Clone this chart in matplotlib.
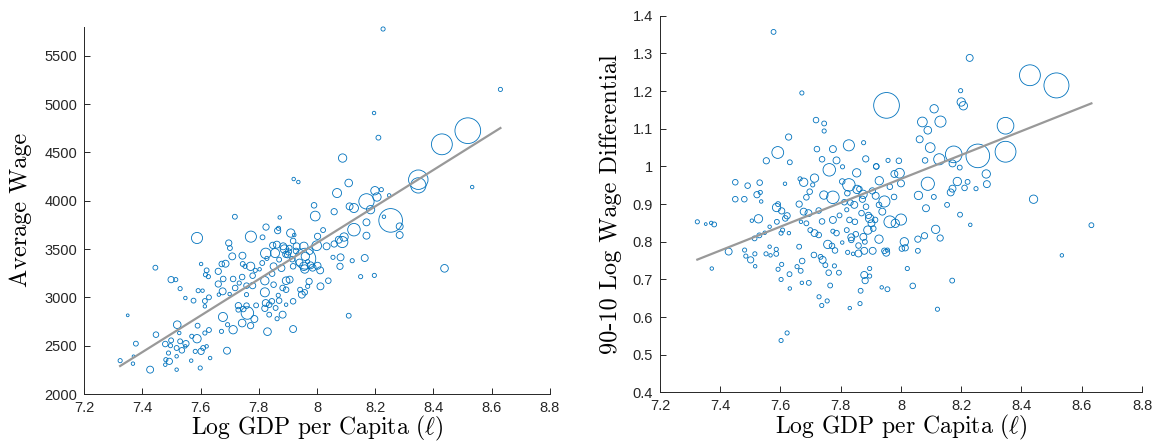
import numpy as np
import matplotlib
matplotlib.use("Agg")
import matplotlib.pyplot as plt
from matplotlib.ticker import FormatStrFormatter

# Left panel: log GDP per capita vs. average wage, marker area ~ city population
x_wage = [
    8.227, 8.630, 8.196, 8.211, 8.518, 8.429, 8.088, 7.920, 7.936, 8.109,
    8.348, 8.348, 8.533, 8.069, 8.199, 8.221, 8.206, 8.248, 8.170, 7.990,
    8.112, 8.127, 8.184, 8.059, 7.994, 8.253, 8.230, 8.284, 8.284, 8.127,
    8.170, 8.170, 8.021, 8.002, 7.718, 7.872, 7.825, 7.865, 7.868, 7.910,
    7.813, 7.773, 7.588, 7.922, 7.697, 7.701, 8.087, 8.075, 8.093, 8.059,
    8.033, 7.999, 7.848, 7.884, 7.824, 7.856, 7.905, 7.930, 7.960, 7.960,
    7.899, 7.709, 7.744, 7.968, 7.828, 8.055, 8.081, 8.164, 8.121, 8.079,
    8.438, 8.150, 8.197, 7.445, 7.602, 7.673, 7.661, 7.621, 7.617, 7.627,
    7.686, 7.745, 7.753, 7.772, 7.788, 7.803, 7.851, 7.878, 7.918, 7.955,
    7.978, 7.985, 8.002, 8.011, 7.958, 7.499, 7.515, 7.530, 7.548, 7.576,
    7.592, 7.607, 7.615, 7.615, 7.629, 7.661, 7.676, 7.663, 7.678, 7.712,
    7.719, 7.700, 7.733, 7.743, 7.758, 7.779, 7.779, 7.758, 7.677, 7.730,
    7.730, 7.747, 7.758, 7.761, 7.785, 7.791, 7.821, 7.824, 7.836, 7.821,
    7.836, 7.845, 7.858, 7.867, 7.870, 7.882, 7.894, 7.882, 7.894, 7.906,
    7.894, 7.918, 7.948, 7.958, 7.942, 7.973, 7.968, 8.012, 8.039, 8.109,
    7.918, 7.830, 7.863, 7.743, 7.772, 7.712, 7.693, 7.672, 7.629, 7.615,
    7.691, 7.621, 7.609, 7.602, 7.633, 7.599, 7.588, 7.570, 7.590, 7.550,
    7.536, 7.530, 7.527, 7.520, 7.518, 7.497, 7.499, 7.479, 7.490, 7.493,
    7.481, 7.479, 7.518, 7.518, 7.568, 7.447, 7.427, 7.378, 7.368, 7.350,
    7.324, 7.370, 7.582, 7.548, 7.821, 7.851, 7.918, 7.955, 7.975,
    7.862, 7.888, 7.902, 7.915, 7.940, 7.870, 7.846, 7.893, 7.928, 7.812,
]
y_wage = [
    5776, 5151, 4907, 4652, 4724, 4583, 4441, 4224, 4193, 4183,
    4217, 4158, 4141, 4079, 4103, 4114, 4038, 4055, 3993, 3952,
    3941, 3924, 3907, 3886, 3841, 3796, 3834, 3734, 3645, 3700,
    3776, 3638, 3696, 3631, 3834, 3827, 3727, 3690, 3714, 3665,
    3621, 3628, 3614, 3645, 3562, 3510, 3572, 3596, 3624, 3552,
    3528, 3534, 3538, 3528, 3455, 3458, 3510, 3528, 3400, 3424,
    3441, 3424, 3431, 3369, 3403, 3414, 3414, 3407, 3379, 3321,
    3300, 3214, 3227, 3307, 3345, 3345, 3269, 3279, 3234, 3214,
    3348, 3345, 3321, 3321, 3279, 3290, 3321, 3303, 3321, 3321,
    3331, 3307, 3327, 3279, 3293, 3183, 3183, 3090, 2993, 2966,
    3069, 3069, 2962, 2907, 3000, 3138, 3062, 3028, 3190, 3190,
    3097, 3034, 3148, 3210, 3121, 3121, 3224, 3028, 2797, 2914,
    2872, 2879, 2914, 2838, 2776, 2917, 3052, 2941, 2924, 2886,
    2821, 2959, 2890, 3021, 2966, 2821, 2924, 3097, 3172, 3183,
    3079, 2959, 3028, 3052, 3079, 3165, 3114, 3114, 3172, 2810,
    2672, 2645, 2779, 2734, 2707, 2665, 2717, 2648, 2662, 2631,
    2448, 2493, 2476, 2441, 2372, 2269, 2572, 2597, 2707, 2521,
    2452, 2545, 2631, 2717, 2476, 2500, 2555, 2517, 2424, 2338,
    2355, 2303, 2390, 2252, 2345, 2614, 2252, 2521, 2314, 2814,
    2345, 2390, 2441, 2493, 3172, 3131, 3583, 3528, 3480,
    3545, 3500, 3470, 3395, 3360, 3390, 3245, 3445, 3480, 3355,
]
pop_wage = [
    0.36, 0.36, 0.25, 0.49, 13.69, 9.00, 1.44, 0.25, 0.25, 1.21,
    7.84, 4.84, 0.25, 1.69, 1.44, 0.36, 1.44, 0.25, 4.84, 0.64,
    1.00, 1.69, 1.44, 0.81, 1.96, 11.56, 0.25, 1.00, 1.00, 3.24,
    1.00, 1.00, 0.49, 0.81, 0.49, 0.25, 0.81, 0.81, 0.36, 1.44,
    0.49, 2.56, 2.56, 0.25, 0.81, 0.49, 2.56, 1.00, 1.44, 0.81,
    1.00, 1.96, 0.81, 1.00, 2.25, 1.69, 0.64, 1.00, 9.00, 1.44,
    0.81, 1.00, 1.00, 0.36, 0.36, 0.36, 1.00, 1.00, 0.36, 0.81,
    1.21, 0.36, 0.36, 0.49, 0.25, 0.64, 0.81, 0.49, 0.36, 0.36,
    1.00, 0.49, 0.36, 1.44, 0.36, 0.25, 1.00, 1.00, 0.64, 1.44,
    1.00, 1.00, 1.00, 1.00, 1.44, 0.81, 0.36, 0.36, 0.25, 0.49,
    0.36, 0.25, 0.49, 0.25, 0.49, 0.81, 1.00, 0.25, 0.64, 0.64,
    0.64, 0.25, 0.36, 0.64, 0.64, 0.81, 0.64, 0.36, 1.69, 0.81,
    0.49, 0.64, 0.64, 3.24, 1.00, 0.49, 1.69, 1.00, 0.64, 0.81,
    0.49, 0.64, 0.49, 0.36, 0.64, 1.00, 0.25, 0.64, 1.21, 1.00,
    0.64, 0.64, 1.00, 0.64, 0.49, 0.81, 0.36, 1.00, 0.64, 0.49,
    1.00, 1.21, 0.36, 1.21, 0.81, 1.44, 0.36, 0.36, 0.49, 0.36,
    1.00, 0.25, 0.49, 0.81, 0.25, 0.36, 1.44, 0.36, 0.49, 0.81,
    0.64, 0.49, 0.25, 1.21, 0.49, 0.36, 0.49, 0.64, 0.36, 0.81,
    0.36, 0.25, 0.25, 0.25, 0.25, 0.64, 1.00, 0.49, 0.25, 0.16,
    0.36, 0.16, 0.36, 0.25, 1.44, 0.64, 0.64, 1.44, 1.00,
    1.00, 1.44, 0.81, 0.64, 1.00, 0.49, 0.64, 0.81, 0.64, 0.49,
]

# Right panel: log GDP per capita vs. 90-10 log wage differential
x_ineq = [
    7.577, 7.671, 8.228, 8.428, 8.516, 7.952, 8.198, 8.200, 8.207, 8.110,
    8.071, 8.131, 8.089, 8.347, 8.347, 8.255, 8.175, 8.127, 8.097, 8.062,
    8.080, 8.171, 8.195, 8.089, 8.187, 8.221, 8.211, 8.171, 8.165, 8.283,
    8.285, 8.249, 8.109, 8.153, 8.083, 8.196, 8.230, 8.440, 8.632, 8.534,
    8.115, 8.130, 8.078, 8.056, 8.056, 8.011, 8.014, 8.003, 8.000, 7.981,
    7.963, 8.058, 7.977, 8.000, 7.995, 7.978, 7.993, 7.957, 7.945, 7.963,
    7.928, 7.918, 7.916, 7.927, 7.927, 7.951, 7.945, 7.955, 7.955, 7.936,
    8.021, 8.039, 8.121, 8.170, 7.906, 7.896, 7.896, 7.878, 7.881, 7.866,
    7.864, 7.830, 7.878, 7.859, 7.841, 7.823, 7.859, 7.875, 7.890, 7.902,
    7.896, 7.914, 7.869, 7.884, 7.872, 7.874, 7.854, 7.827, 7.822, 7.832,
    7.820, 7.829, 7.847, 7.820, 7.835, 7.835, 7.786, 7.774, 7.805, 7.781,
    7.757, 7.771, 7.774, 7.738, 7.774, 7.744, 7.762, 7.786, 7.774, 7.806,
    7.827, 7.853, 7.876, 7.883, 7.738, 7.721, 7.718, 7.745, 7.745, 7.627,
    7.591, 7.553, 7.631, 7.615, 7.665, 7.677, 7.713, 7.707, 7.697, 7.686,
    7.662, 7.677, 7.693, 7.686, 7.668, 7.727, 7.699, 7.713, 7.727, 7.711,
    7.733, 7.740, 7.749, 7.760, 7.794, 7.779, 7.765, 7.755, 7.728, 7.737,
    7.694, 7.671, 7.667, 7.672, 7.662, 7.655, 7.630, 7.631, 7.602, 7.604,
    7.592, 7.602, 7.622, 7.586, 7.586, 7.567, 7.552, 7.564, 7.515, 7.516,
    7.501, 7.485, 7.481, 7.428, 7.372, 7.324, 7.352, 7.370, 7.380, 7.480,
    7.450, 7.450, 7.491, 7.522, 7.531, 7.533, 7.536, 7.527, 7.505, 7.514,
    7.530, 7.548, 7.564, 7.587, 7.592, 7.588, 7.602, 7.607, 7.604, 7.616,
    7.622, 7.628, 7.918, 7.805,
    7.845, 7.862, 7.892, 7.908, 7.938, 7.880, 7.812, 7.796, 7.905, 7.850,
]
y_ineq = [
    1.357, 1.195, 1.288, 1.242, 1.215, 1.162, 1.201, 1.171, 1.161, 1.153,
    1.118, 1.119, 1.096, 1.108, 1.039, 1.028, 1.032, 1.019, 1.050, 1.072,
    1.016, 1.008, 0.997, 0.954, 0.960, 0.959, 0.943, 0.941, 0.931, 0.980,
    0.953, 0.941, 0.919, 0.898, 0.889, 0.872, 0.845, 0.913, 0.844, 0.764,
    0.833, 0.810, 0.816, 0.807, 0.776, 0.800, 0.784, 0.782, 0.859, 0.849,
    0.853, 0.923, 0.919, 0.955, 0.982, 0.980, 1.015, 1.016, 0.907, 0.946,
    0.962, 1.000, 0.922, 0.898, 0.807, 0.771, 0.776, 0.778, 0.674, 0.679,
    0.729, 0.683, 0.621, 0.697, 0.776, 0.729, 0.709, 0.712, 0.697, 0.670,
    0.636, 0.624, 0.776, 0.769, 0.768, 0.772, 0.790, 0.813, 0.831, 0.849,
    0.862, 0.858, 0.876, 0.893, 0.913, 0.926, 0.939, 0.951, 0.929, 0.904,
    0.885, 0.858, 0.853, 0.831, 0.812, 0.805, 0.823, 0.828, 0.798, 0.777,
    0.793, 0.789, 0.858, 0.854, 0.918, 0.924, 0.991, 1.016, 1.046, 0.999,
    1.056, 0.983, 1.063, 1.020, 1.019, 1.046, 1.123, 1.114, 1.094, 1.078,
    1.037, 1.015, 1.011, 0.954, 0.967, 0.958, 0.969, 0.951, 0.933, 0.918,
    0.900, 0.880, 0.876, 0.849, 0.853, 0.883, 0.831, 0.823, 0.818, 0.765,
    0.760, 0.752, 0.738, 0.718, 0.718, 0.736, 0.684, 0.643, 0.654, 0.631,
    0.691, 0.691, 0.723, 0.749, 0.787, 0.734, 0.714, 0.676, 0.700, 0.740,
    0.727, 0.538, 0.558, 0.780, 0.768, 0.764, 0.768, 0.787, 0.768, 0.735,
    0.752, 0.762, 0.778, 0.774, 0.729, 0.853, 0.847, 0.850, 0.846, 0.913,
    0.913, 0.958, 0.949, 0.925, 0.957, 0.931, 0.907, 0.861, 0.856, 0.809,
    0.817, 0.824, 0.840, 0.891, 0.900, 0.853, 0.823, 0.831, 0.882, 0.862,
    0.869, 0.823, 1.000, 0.960,
    0.898, 0.940, 0.870, 0.835, 0.880, 0.800, 0.905, 0.870, 0.935, 0.820,
]
pop_ineq = [
    0.49, 0.36, 1.00, 9.00, 12.96, 13.69, 0.36, 1.44, 1.44, 1.44,
    1.96, 2.56, 1.21, 5.76, 9.00, 11.56, 5.76, 2.56, 1.96, 1.00,
    0.64, 1.00, 0.49, 3.61, 1.44, 0.49, 0.64, 1.00, 1.00, 1.44,
    1.00, 0.36, 0.49, 0.49, 1.00, 0.49, 0.25, 1.44, 0.49, 0.25,
    1.44, 0.81, 0.81, 0.81, 0.49, 1.44, 0.81, 0.64, 2.56, 1.44,
    2.89, 1.44, 0.64, 1.00, 1.96, 1.00, 0.64, 0.36, 2.56, 0.64,
    1.44, 0.64, 1.00, 0.64, 1.44, 1.00, 0.64, 0.36, 0.49, 0.25,
    0.36, 0.64, 0.36, 0.49, 1.00, 0.36, 0.36, 1.00, 0.81, 0.49,
    0.36, 0.25, 1.00, 1.00, 0.25, 0.36, 0.64, 1.00, 1.44, 1.00,
    1.44, 0.64, 0.64, 0.64, 0.81, 1.44, 1.44, 3.24, 0.64, 0.64,
    0.36, 0.64, 0.64, 0.49, 1.00, 0.64, 0.64, 0.36, 0.25, 0.64,
    1.44, 0.64, 1.00, 0.64, 3.24, 1.44, 3.24, 1.00, 1.00, 0.36,
    2.56, 1.44, 0.36, 0.81, 0.64, 0.64, 0.64, 0.49, 0.36, 0.81,
    2.89, 0.81, 0.49, 0.25, 0.36, 1.44, 1.44, 0.36, 0.64, 0.64,
    0.81, 1.00, 1.00, 0.49, 0.25, 0.64, 0.49, 1.00, 0.64, 0.64,
    0.49, 1.00, 0.49, 0.64, 0.49, 0.36, 0.49, 0.36, 0.36, 0.36,
    0.49, 0.25, 0.49, 0.64, 0.49, 0.36, 0.49, 0.25, 0.36, 0.36,
    0.36, 0.36, 0.36, 0.36, 0.49, 0.25, 0.36, 0.25, 0.36, 0.25,
    0.81, 0.36, 0.36, 1.00, 0.25, 0.36, 0.16, 0.25, 0.49, 0.64,
    0.64, 0.64, 0.64, 0.81, 0.64, 0.36, 0.25, 1.44, 0.25, 0.49,
    0.49, 0.25, 0.25, 1.44, 0.49, 0.49, 0.36, 0.36, 0.81, 0.64,
    0.81, 0.25, 0.64, 0.64,
    1.00, 0.64, 0.81, 0.64, 1.00, 0.49, 0.64, 0.49, 0.81, 0.64,
]

# population-weighted linear fits (slope, intercept)
fit_wage = (1885.0, -11516.0)
fit_ineq = (0.317, -1.569)

BLUE = "#0072BD"
AXIS = "#262626"
TICK_FONT = "Liberation Sans"

plt.rcParams["mathtext.fontset"] = "cm"


def style_axes(ax, ylim, yticks):
    ax.set_xlim(7.2, 8.8)
    ax.set_ylim(*ylim)
    ax.set_xticks(np.arange(7.2, 8.81, 0.2))
    ax.set_yticks(yticks)
    ax.xaxis.set_major_formatter(FormatStrFormatter("%g"))
    ax.yaxis.set_major_formatter(FormatStrFormatter("%g"))
    for side in ("top", "right"):
        ax.spines[side].set_visible(False)
    for side in ("left", "bottom"):
        ax.spines[side].set_color(AXIS)
        ax.spines[side].set_linewidth(0.7)
    ax.tick_params(direction="in", length=4, width=0.7, colors=AXIS,
                   labelsize=10.5, pad=5)
    for lbl in ax.get_xticklabels() + ax.get_yticklabels():
        lbl.set_fontfamily(TICK_FONT)


def draw_panel(ax, x, y, pop, fit):
    x = np.asarray(x)
    ax.scatter(x, y, s=np.asarray(pop) * 25, facecolors="none",
               edgecolors=BLUE, linewidths=0.6, zorder=2, clip_on=False)
    xx = np.array([x.min(), x.max()])
    ax.plot(xx, fit[0] * xx + fit[1], color="#999999", lw=1.6, zorder=3)


fig = plt.figure(figsize=(11.56, 4.44), dpi=100)
ax1 = fig.add_axes([0.0727, 0.1126, 0.4030, 0.8273])
ax2 = fig.add_axes([0.5709, 0.1160, 0.4170, 0.8486])

draw_panel(ax1, x_wage, y_wage, pop_wage, fit_wage)
style_axes(ax1, (2000, 5800), np.arange(2000, 5501, 500))

draw_panel(ax2, x_ineq, y_ineq, pop_ineq, fit_ineq)
style_axes(ax2, (0.4, 1.4), np.round(np.arange(0.4, 1.41, 0.1), 1))

xlab = r"Log GDP per Capita ($\ell$)"
for ax, ylab, ycoord in ((ax1, "Average Wage", -0.135),
                         (ax2, "90-10 Log Wage Differential", -0.102)):
    ax.set_xlabel(xlab, fontsize=17, family="cmr10", va="center")
    ax.xaxis.set_label_coords(0.5, -0.093)
    ax.set_ylabel(ylab, fontsize=17.5, family="cmr10", va="center")
    ax.yaxis.set_label_coords(ycoord, 0.5)

fig.savefig("out.png", dpi=100)
